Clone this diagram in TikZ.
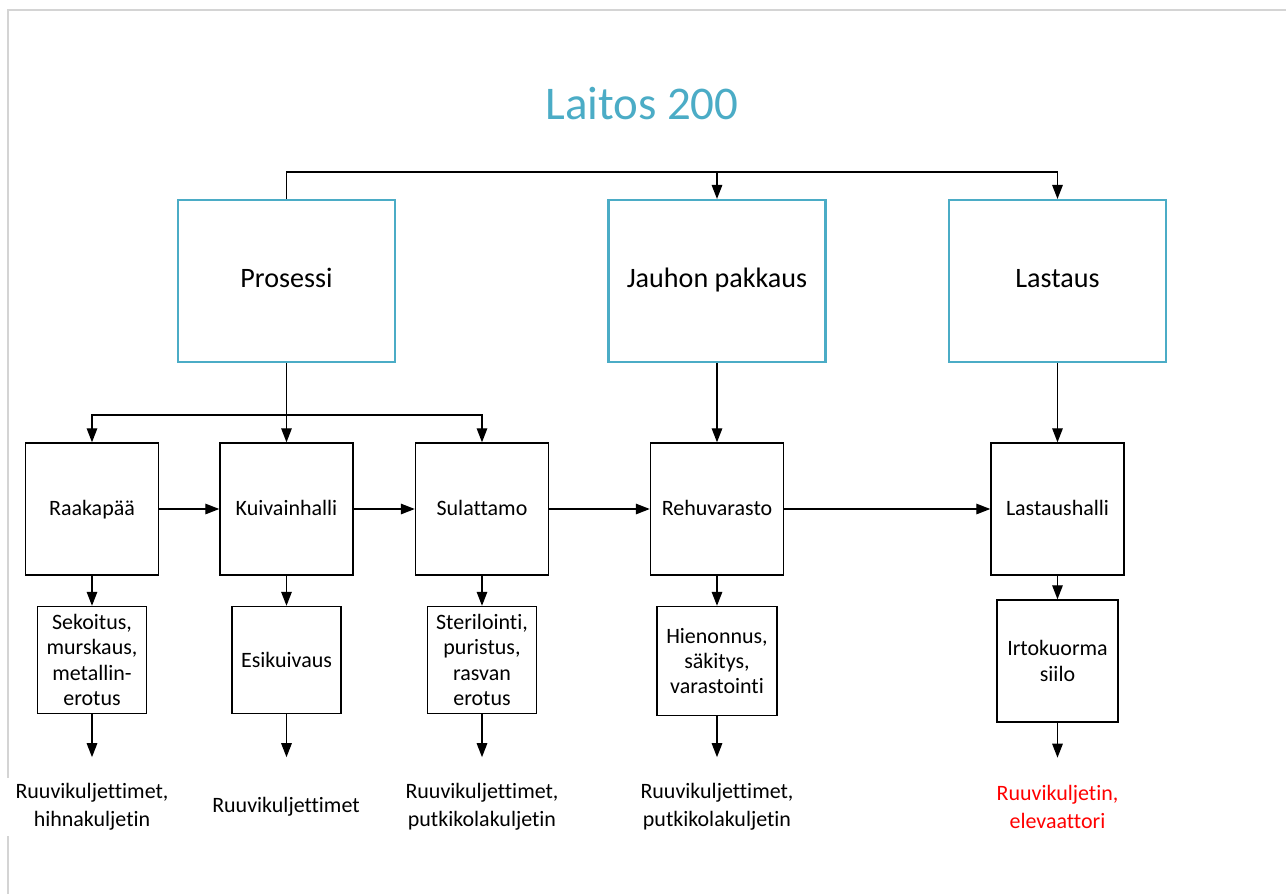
\documentclass[tikz,border=0pt]{standalone}
\usepackage{fontspec}
\setmainfont{Carlito}[Ligatures={NoCommon}]
\usepackage{xcolor}
\usepackage{tikz}
\usetikzlibrary{arrows.meta,positioning}
\definecolor{laitosblue}{HTML}{4BACC6}
\definecolor{kehys}{HTML}{D4D4D4}

\begin{document}
\begin{tikzpicture}[x=0.02cm,y=-0.02cm,
  iso/.style={draw=laitosblue,line width=1.2pt,minimum width=4.34cm,minimum height=3.24cm,text height=2ex,text depth=0.4ex,font=\fontsize{16}{19}\selectfont},
  osa/.style={draw,line width=0.8pt,minimum width=2.66cm,minimum height=2.64cm,text height=2ex,text depth=0.4ex,font=\fontsize{12.5}{15}\selectfont},
  vaihe/.style={draw,line width=0.8pt,minimum width=2.18cm,minimum height=2.14cm,align=center,inner sep=1pt,font=\fontsize{12.5}{14.5}\selectfont},
  kulj/.style={align=center,fill=white,inner xsep=6pt,font=\fontsize{12.5}{16}\selectfont},
  nuoli/.style={-{Triangle[length=8pt,width=6pt]},line width=0.8pt}]
  \useasboundingbox (0,0) rectangle (1286,894);
  \draw [kehys,line width=1pt] (1286,10) -- (8,10) -- (8,894);
  \node (otsikko) [text=laitosblue,font=\fontsize{26.7}{32}\selectfont] at (642,104) {Laitos 200};
  % ylin taso
  \node (prosessi) [iso] at (286.5,281) {Prosessi};
  \node (pakkaus) [iso] at (717,281) {Jauhon pakkaus};
  \node (lastaus) [iso] at (1057.5,281) {Lastaus};
  % hallit
  \node (raaka) [osa] at (92,509) {Raakapää};
  \node (kuivain) [osa] at (286.5,509) {Kuivainhalli};
  \node (sulattamo) [osa] at (482,509) {Sulattamo};
  \node (rehu) [osa] at (717,509) {Rehuvarasto};
  \node (lastaushalli) [osa] at (1057.5,509) {Lastaushalli};
  % vaiheet
  \node (sekoitus) [vaihe] at (92,660) {Sekoitus,\\murskaus,\\metallin-\\erotus};
  \node (esikuivaus) [vaihe] at (286.5,660) {Esikuivaus};
  \node (sterilointi) [vaihe] at (482,660) {Sterilointi,\\puristus,\\rasvan\\erotus};
  \node (hienonnus) [vaihe,minimum width=2.4cm,minimum height=2.18cm] at (717,661) {Hienonnus,\\säkitys,\\varastointi};
  \node (siilo) [vaihe,minimum width=2.42cm,minimum height=2.44cm] at (1057.5,661) {Irtokuorma\\siilo};
  % kuljettimet
  \node (k1) [kulj] at (92,807) {Ruuvikuljettimet,\\hihnakuljetin};
  \node (k2) [kulj] at (286,807) {Ruuvikuljettimet};
  \node (k3) [kulj] at (482,807) {Ruuvikuljettimet,\\putkikolakuljetin};
  \node (k4) [kulj] at (717,807) {Ruuvikuljettimet,\\putkikolakuljetin};
  \node (k5) [kulj,text=red] at (1057.5,807) {Ruuvikuljetin,\\elevaattori};
  \coordinate (ylalinja) at (0,172);
  \coordinate (alalinja) at (0,415);
  \draw [nuoli] (prosessi.north) |- (ylalinja -| lastaus.north) -- (lastaus.north);
  \draw [nuoli] (pakkaus.north |- ylalinja) -- (pakkaus.north);
  \draw [nuoli] (prosessi.south) -- (kuivain.north);
  \draw [nuoli] (kuivain.north |- alalinja) -| (raaka.north);
  \draw [nuoli] (kuivain.north |- alalinja) -| (sulattamo.north);
  \draw [nuoli] (pakkaus.south) -- (rehu.north);
  \draw [nuoli] (lastaus.south) -- (lastaushalli.north);
  \draw [nuoli] (raaka) -- (kuivain);
  \draw [nuoli] (kuivain) -- (sulattamo);
  \draw [nuoli] (sulattamo) -- (rehu);
  \draw [nuoli] (rehu) -- (lastaushalli);
  \draw [nuoli] (raaka) -- (sekoitus);
  \draw [nuoli] (kuivain) -- (esikuivaus);
  \draw [nuoli] (sulattamo) -- (sterilointi);
  \draw [nuoli] (rehu) -- (hienonnus);
  \draw [nuoli] (lastaushalli) -- (siilo);
  \draw [nuoli] (sekoitus.south) -- ++(0,43);
  \draw [nuoli] (esikuivaus.south) -- ++(0,43);
  \draw [nuoli] (sterilointi.south) -- ++(0,43);
  \draw [nuoli] (hienonnus.south) -- ++(0,41);
  \draw [nuoli] (siilo.south) -- ++(0,35);
\end{tikzpicture}
\end{document}
